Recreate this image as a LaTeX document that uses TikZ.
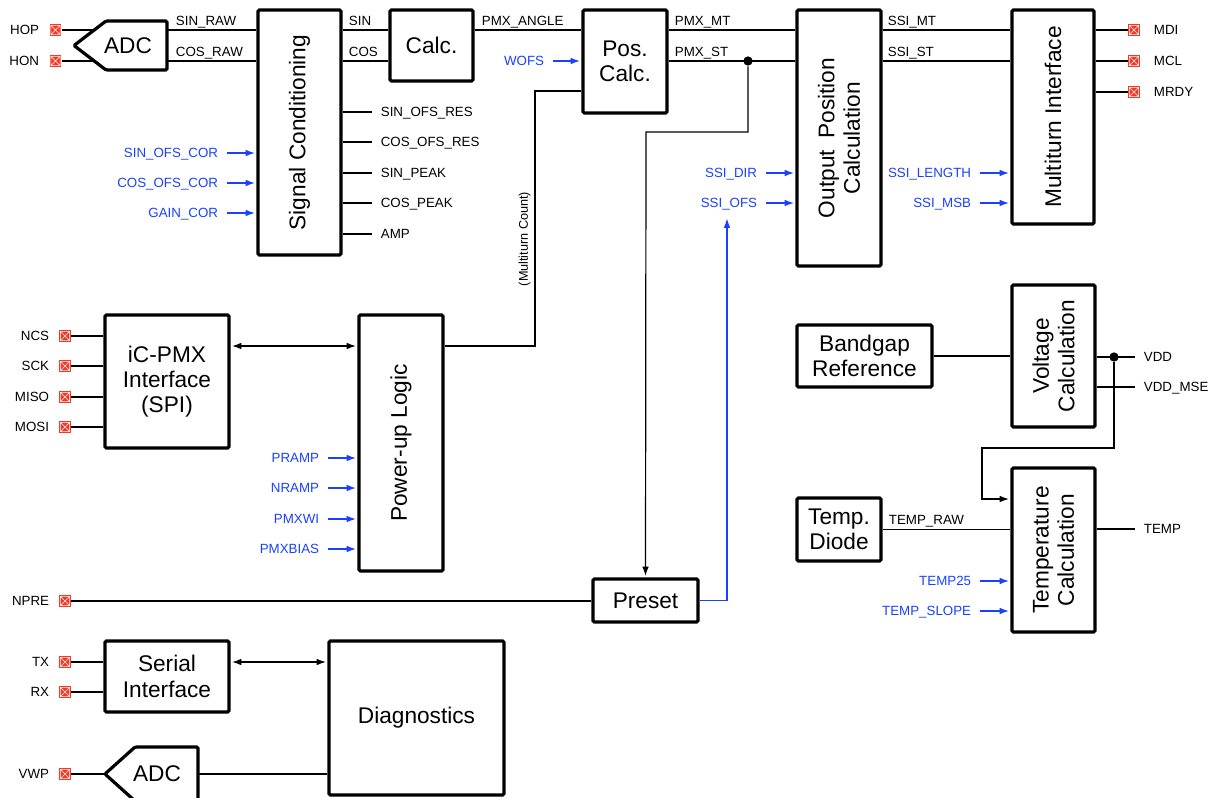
\documentclass[tikz,border=0pt]{standalone}
\usepackage{fontspec}
\setmainfont{Liberation Sans}
\usepackage{tikz}
\usetikzlibrary{positioning}
\usetikzlibrary{fit,arrows.meta}
\definecolor{pinred}{RGB}{245,55,35}
\definecolor{sigblue}{RGB}{25,65,255}

\begin{document}
\begin{tikzpicture}
                [x=0.75pt, y=-0.75pt, line width=0.9pt,
                 blk/.style = {draw, line width=2.4pt, rounded corners=1pt, inner sep=0pt},
                 big/.style = {font=\fontsize{17}{19}\selectfont, align=center, inner sep=0pt},
                 sig/.style = {font=\fontsize{10}{12}\selectfont, inner sep=1pt, text height=7.2pt, text depth=0pt},
                 bsig/.style = {sig, text=sigblue},
                 arr/.style = {-{Latex[length=7pt,width=5pt]}, shorten >=1.1pt},
                 barr/.style = {arr, draw=sigblue},
                 both/.style = {{Latex[length=7pt,width=5pt]}-{Latex[length=7pt,width=5pt]}, shorten >=1.1pt, shorten <=1.1pt},
                 dot/.style = {circle, fill=black, inner sep=0pt, minimum size=7pt},
                 pin/.style = {fill=pinred, minimum size=8.8pt, inner sep=0pt, path picture={
                    \draw[white, line width=0.4pt]
                      ([shift={(1pt,1pt)}]path picture bounding box.south west) rectangle
                      ([shift={(-1pt,-1pt)}]path picture bounding box.north east)
                      ([shift={(1pt,1pt)}]path picture bounding box.south west) --
                      ([shift={(-1pt,-1pt)}]path picture bounding box.north east)
                      ([shift={(1pt,-1pt)}]path picture bounding box.north west) --
                      ([shift={(-1pt,1pt)}]path picture bounding box.south east);}}]

                \useasboundingbox (0,0) rectangle (1213,797);
                \clip (0,0) rectangle (1213,797);

                % blocks
                \node[blk, fit={(258,10) (341,255)}] (sc) {};
                \node[big, rotate=90] (sctxt) at (sc.center) {Signal Conditioning};
                \node[blk, fit={(390,10) (473,81)}] (calc) {};
                \node[big] (calctxt) at (calc.center) {Calc.};
                \node[blk, fit={(583,10) (667,113)}] (pos) {};
                \node[big] (postxt) at (pos.center) {Pos.\\Calc.};
                \node[blk, fit={(797,10) (881,266)}] (opc) {};
                \node[big, rotate=90] (opctxt) at (opc.center) {Output\enspace Position\\Calculation};
                \node[blk, fit={(1012,10) (1094,224)}] (mti) {};
                \node[big, rotate=90] (mtitxt) at (mti.center) {Multiturn Interface};
                \node[blk, fit={(105,315) (229,448)}] (spi) {};
                \node[big] (spitxt) at (spi.center) {iC-PMX\\Interface\\(SPI)};
                \node[blk, fit={(359,315) (443,571)}] (pwr) {};
                \node[big, rotate=90] (pwrtxt) at (pwr.center) {Power-up Logic};
                \node[blk, fit={(593,579) (698,622)}] (preset) {};
                \node[big] (presettxt) at (preset.center) {Preset};
                \node[blk, fit={(797,325) (932,387)}] (bgr) {};
                \node[big] (bgrtxt) at (bgr.center) {Bandgap\\Reference};
                \node[blk, fit={(1012,285) (1095,427)}] (volt) {};
                \node[big, rotate=90] (volttxt) at (volt.center) {Voltage\\Calculation};
                \node[blk, fit={(797,498) (881,561)}] (tdio) {};
                \node[big] (tdiotxt) at (tdio.center) {Temp.\\Diode};
                \node[blk, fit={(1012,468) (1095,632)}] (tcal) {};
                \node[big, rotate=90] (tcaltxt) at (tcal.center) {Temperature\\Calculation};
                \node[blk, fit={(105,641) (229,712)}] (ser) {};
                \node[big] (sertxt) at (ser.center) {Serial\\Interface};
                \node[blk, fit={(329,641) (504,795)}] (diag) {};
                \node[big] (diagtxt) at (diag.center) {Diagnostics};

                % converters
                \draw[blk] (74,45.5) -- (106,21) -- (167,21) -- (167,70) -- (106,70) -- cycle;
                \node[big] (adc1) at (128,45.5) {ADC};
                \coordinate (adc1p) at (94,30);
                \coordinate (adc1n) at (94,61);
                \coordinate (adc1s) at (167,30);
                \coordinate (adc1c) at (167,61);
                \draw[blk] (105,774) -- (135,747) -- (198,747) -- (198,801) -- (135,801) -- cycle;
                \node[big] (adc2) at (157,774) {ADC};
                \coordinate (adc2i) at (105,774);
                \coordinate (adc2o) at (198,774);

                % rows
                \coordinate (r1) at (0,30);
                \coordinate (r2) at (0,61);
                \coordinate (pwrrow) at (0,346);

                % hall inputs
                \node[pin] (pHOP) at (55.5,30) {};
                \node[pin] (pHON) at (55.5,61) {};
                \node[sig, anchor=east] (lHOP) at (41,30) {HOP};
                \node[sig, anchor=east] (lHON) at (41,61) {HON};
                \draw (pHOP) -- (adc1p);
                \draw (pHON) -- (adc1n);
                \draw (adc1s) -- (sc.west |- r1);
                \draw (adc1c) -- (sc.west |- r2);
                \node[sig, anchor=south west] (lsinraw) at (174,27) {SIN\_RAW};
                \node[sig, anchor=south west] (lcosraw) at (174,58) {COS\_RAW};

                % signal path
                \draw (sc.east |- r1) -- (calc.west |- r1);
                \draw (sc.east |- r2) -- (calc.west |- r2);
                \draw (calc.east |- r1) -- (pos.west |- r1);
                \draw (pos.east |- r1) -- (opc.west |- r1);
                \draw (pos.east |- r2) -- (opc.west |- r2);
                \draw (opc.east |- r1) -- (mti.west |- r1);
                \draw (opc.east |- r2) -- (mti.west |- r2);
                \node[sig, anchor=south west] (lsin) at (347,27) {SIN};
                \node[sig, anchor=south west] (lcos) at (347,58) {COS};
                \node[sig, anchor=south west] (langle) at (480,27) {PMX\_ANGLE};
                \node[sig, anchor=south west] (lpmxmt) at (673,27) {PMX\_MT};
                \node[sig, anchor=south west] (lpmxst) at (673,58) {PMX\_ST};
                \node[sig, anchor=south west] (lssimt) at (886,27) {SSI\_MT};
                \node[sig, anchor=south west] (lssist) at (886,58) {SSI\_ST};

                \foreach \y/\txt in {112/SIN\_OFS\_RES, 142/COS\_OFS\_RES, 173/SIN\_PEAK, 203/COS\_PEAK, 234/AMP} {
                  \coordinate (t) at (0,\y);
                  \draw (sc.east |- t) -- ++(29,0) node[sig, right=5.5pt] (o\y) {\txt};
                }
                \foreach \y/\txt in {153/SIN\_OFS\_COR, 183/COS\_OFS\_COR, 213/GAIN\_COR} {
                  \node[bsig, anchor=east] (i\y) at (220,\y) {\txt};
                  \draw[barr] ([xshift=5.5pt]i\y.east) -- (i\y -| sc.west);
                }
                \node[bsig, anchor=east] (wofs) at (546,61) {WOFS};
                \draw[barr] ([xshift=5.5pt]wofs.east) -- (wofs -| pos.west);
                \foreach \y/\txt in {173/SSI\_DIR, 203/SSI\_OFS} {
                  \node[bsig, anchor=east] (d\y) at (759,\y) {\txt};
                  \draw[barr] ([xshift=5.5pt]d\y.east) -- (d\y -| opc.west);
                }
                \foreach \y/\txt in {173/SSI\_LENGTH, 203/SSI\_MSB} {
                  \node[bsig, anchor=east] (m\y) at (973,\y) {\txt};
                  \draw[barr] ([xshift=5.5pt]m\y.east) -- (m\y -| mti.west);
                }
                \foreach \n/\y in {MDI/30, MCL/61, MRDY/92} {
                  \node[pin] (p\n) at (1134,\y) {};
                  \node[sig, anchor=west] (l\n) at (1152,\y) {\n};
                  \draw (p\n -| mti.east) -- (p\n);
                }

                % multiturn count and preset
                \node[dot] (stdot) at (748,61) {};
                \coordinate (stturn) at (646,132);
                \draw[arr] (stdot) |- (stturn) -- (preset.north);
                \coordinate (mtc) at (535,91);
                \draw (pos.west |- mtc) -- (mtc) |- (pwr.east |- pwrrow);
                \node[sig, rotate=90, font=\fontsize{9.5}{11}\selectfont] (mtcount) at (523,239) {(Multiturn Count)};
                \coordinate (ofsin) at (727,217);
                \draw[barr] (preset.east) -| (ofsin);
                \node[pin] (pNPRE) at (65,601) {};
                \node[sig, anchor=east] (lNPRE) at (51,601) {NPRE};
                \draw (pNPRE) -- (pNPRE -| preset.west);

                % spi and power-up
                \foreach \n/\y in {NCS/336, SCK/366, MISO/397, MOSI/427} {
                  \node[pin] (p\n) at (65,\y) {};
                  \node[sig, anchor=east] (l\n) at (51,\y) {\n};
                  \draw (p\n) -- (p\n -| spi.west);
                }
                \draw[both] (spi.east |- pwrrow) -- (pwr.west |- pwrrow);
                \foreach \y/\txt in {458/PRAMP, 488/NRAMP, 519/PMXWI, 549/PMXBIAS} {
                  \node[bsig, anchor=east] (u\y) at (321,\y) {\txt};
                  \draw[barr] ([xshift=5.5pt]u\y.east) -- (u\y -| pwr.west);
                }

                % voltage and temperature
                \draw (bgr.east) -- (bgr.east -| volt.west);
                \coordinate (vddend) at (1135,357);
                \coordinate (mseend) at (1135,387);
                \node[dot] (vdot) at (1114,357) {};
                \draw (volt.east |- vddend) -- (vddend);
                \draw (volt.east |- mseend) -- (mseend);
                \node[sig, anchor=west] (lvdd) at (1142,357) {VDD};
                \node[sig, anchor=west] (lmse) at (1142,387) {VDD\_MSE};
                \coordinate (vturn) at (982,448);
                \coordinate (tin) at (0,499);
                \draw[arr] (vdot) |- (vturn) |- (tcal.west |- tin);
                \draw (tdio.east) -- (tdio.east -| tcal.west);
                \node[sig, anchor=south west] (ltraw) at (887,526) {TEMP\_RAW};
                \coordinate (tempend) at (1135,529);
                \draw (tcal.east |- tempend) -- (tempend);
                \node[sig, anchor=west] (ltemp) at (1142,529) {TEMP};
                \foreach \y/\txt in {581/TEMP25, 611/TEMP\_SLOPE} {
                  \node[bsig, anchor=east] (c\y) at (973,\y) {\txt};
                  \draw[barr] ([xshift=5.5pt]c\y.east) -- (c\y -| tcal.west);
                }

                % serial and diagnostics
                \foreach \n/\y in {TX/662, RX/692, VWP/774} {
                  \node[pin] (p\n) at (65,\y) {};
                  \node[sig, anchor=east] (l\n) at (51,\y) {\n};
                }
                \draw (pTX) -- (pTX -| ser.west);
                \draw (pRX) -- (pRX -| ser.west);
                \draw[both] (ser.east |- pTX) -- (diag.west |- pTX);
                \draw (pVWP) -- (adc2i);
                \draw (adc2o) -- (adc2o -| diag.west);

            \end{tikzpicture}
\end{document}
